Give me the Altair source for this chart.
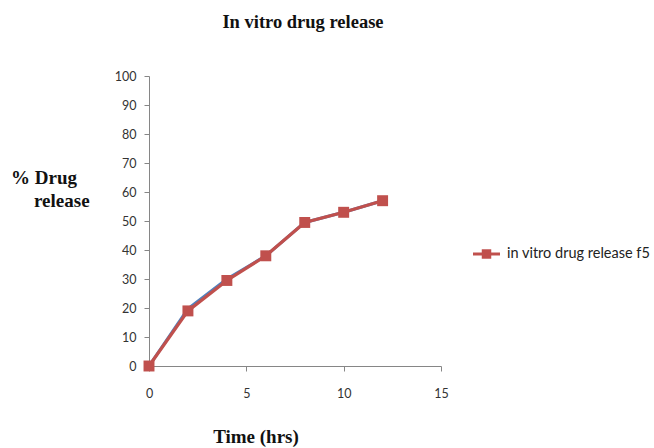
import altair as alt
import pandas as pd

time_hrs = [0, 2, 4, 6, 8, 10, 12]
release_f5 = [0, 19, 29.5, 38, 49.5, 53, 57]
release_hidden = [0, 19.7, 30, 38, 49.5, 53, 57]
series_name = "in vitro drug release f5"

df = pd.DataFrame({"t": time_hrs, "f5": release_f5, "hidden": release_hidden})

RED = "#C0504D"
BLUE = "#4F81BD"
AX = "#868686"
FONT = "Lato"
SERIF = "Liberation Serif"

x = alt.X("t:Q", scale=alt.Scale(domain=[0, 15], nice=False),
          axis=alt.Axis(values=[0, 5, 10, 15], title=None, grid=False,
                        domainColor=AX, tickColor=AX, tickSize=5, labelFlush=False,
                        labelFont=FONT, labelFontSize=12.5, labelColor="#333333",
                        labelPadding=16))
y_axis = alt.Axis(values=list(range(0, 101, 10)), title=None, grid=False,
                  domainColor=AX, tickColor=AX, tickSize=5, labelFlush=False,
                  labelFont=FONT, labelFontSize=12.5, labelColor="#333333",
                  labelPadding=8)
ysc = alt.Scale(domain=[0, 100], nice=False)

blue = alt.Chart(df).mark_line(color=BLUE, strokeWidth=3).encode(
    x=x, y=alt.Y("hidden:Q", scale=ysc, axis=y_axis))
red = alt.Chart(df).mark_line(color=RED, strokeWidth=3.2).encode(
    x=x, y=alt.Y("f5:Q", scale=ysc, axis=y_axis))
pts = alt.Chart(df).mark_point(shape="square", filled=True, color=RED, size=120, opacity=1).encode(
    x=x, y=alt.Y("f5:Q", scale=ysc, axis=y_axis))

def txt(s, px, py, size, font, bold=True, align="center", color="#111111"):
    return alt.Chart(pd.DataFrame({"s": [s]})).mark_text(
        font=font, fontSize=size, fontWeight="bold" if bold else "normal",
        align=align, baseline="middle", color=color).encode(
        x=alt.value(px), y=alt.value(py), text="s:N")

title = txt("In vitro drug release", 154, -54, 18.5, SERIF)
xtitle = txt("Time (hrs)", 107, 361, 19, SERIF)
ytitle1 = txt("% Drug", -138, 102, 19, SERIF, align="left")
ytitle2 = txt("release", -115, 125, 19, SERIF, align="left")

leg_line = alt.Chart(pd.DataFrame({"a": [0]})).mark_rule(color=RED, strokeWidth=3).encode(
    x=alt.value(324), x2=alt.value(351), y=alt.value(178))
leg_pt = alt.Chart(pd.DataFrame({"a": [0]})).mark_point(
    shape="square", filled=True, color=RED, size=90, opacity=1).encode(
    x=alt.value(337.5), y=alt.value(178))
leg_txt = txt(series_name, 358, 178, 14.5, FONT, bold=False, align="left", color="#222222")

chart = alt.layer(blue, red, pts, title, xtitle, ytitle1, ytitle2, leg_line, leg_pt, leg_txt).properties(
    width=292, height=290, autosize="none",
    padding={"left": 149, "top": 76, "right": 213, "bottom": 82},
).configure(background="white").configure_view(stroke=None)

chart.save("out.html", embed_options={"renderer": "svg", "actions": False})
